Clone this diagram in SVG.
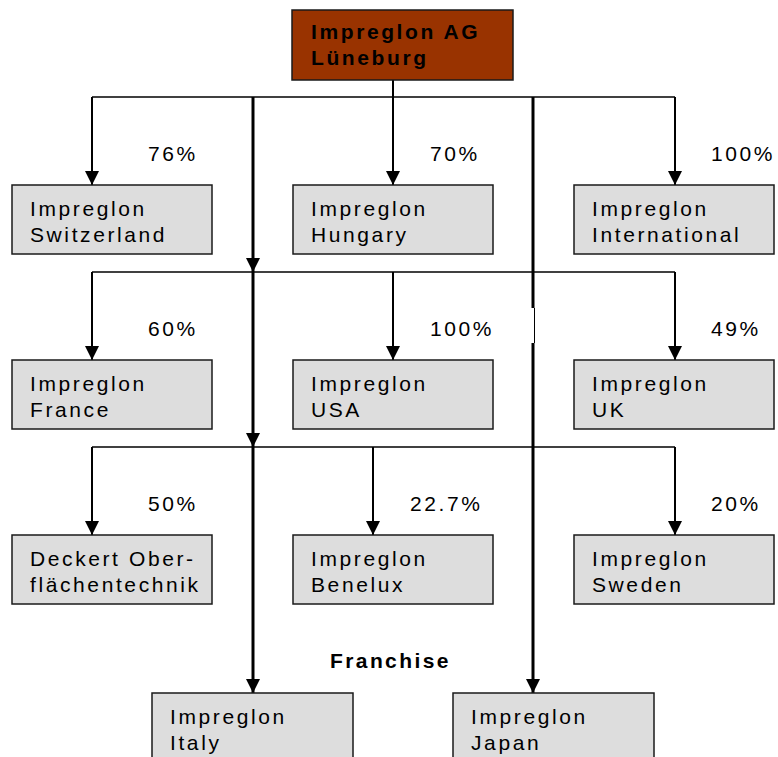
<svg xmlns="http://www.w3.org/2000/svg" width="778" height="757" viewBox="0 0 778 757">
<style>
.box{fill:#dddddd;stroke:#1a1a1a;stroke-width:1.5}
.top{fill:#993300;stroke:#1a1a1a;stroke-width:1.5}
.t{font-family:"Liberation Sans",Arial,sans-serif;font-size:21px;letter-spacing:2.6px;fill:#000}
.b{font-weight:bold}
.ln{stroke:#000;stroke-width:1.6;fill:none}
.ar{stroke:#000;stroke-width:2;fill:none;marker-end:url(#ah)}
.th{stroke:#000;stroke-width:3;fill:none}
.tha{stroke:#000;stroke-width:3;fill:none;marker-end:url(#ah)}
</style>
<defs>
<marker id="ah" markerUnits="userSpaceOnUse" markerWidth="16" markerHeight="14" refX="14" refY="7" orient="auto">
<path d="M0,0 L14,7 L0,14 Z" fill="#000"/>
</marker>
</defs>
<g id="connectors">
<line class="ar" x1="393" y1="80" x2="393" y2="97" style="marker-end:none"/>
<line class="ln" x1="92" y1="97" x2="675" y2="97"/>
<line class="ar" x1="92" y1="97" x2="92" y2="185"/>
<line class="ar" x1="393" y1="97" x2="393" y2="185"/>
<line class="ar" x1="675" y1="97" x2="675" y2="185"/>
<line class="ln" x1="92" y1="272" x2="675" y2="272"/>
<line class="ar" x1="92" y1="272" x2="92" y2="360"/>
<line class="ar" x1="393" y1="272" x2="393" y2="360"/>
<line class="ar" x1="675" y1="272" x2="675" y2="360"/>
<line class="ln" x1="92" y1="447" x2="675" y2="447"/>
<line class="ar" x1="92" y1="447" x2="92" y2="535"/>
<line class="ar" x1="373" y1="447" x2="373" y2="535"/>
<line class="ar" x1="675" y1="447" x2="675" y2="535"/>
<line class="tha" x1="253" y1="97" x2="253" y2="272"/>
<line class="tha" x1="253" y1="272" x2="253" y2="447"/>
<line class="tha" x1="253" y1="447" x2="253" y2="693"/>
<line class="th" x1="533" y1="97" x2="533" y2="308"/>
<line stroke="#000" stroke-width="1" x1="534.5" y1="308" x2="534.5" y2="343"/>
<line class="tha" x1="533" y1="343" x2="533" y2="693"/>
</g>
<g id="n-root">
<rect class="top" x="292" y="10" width="221" height="70"/>
<text class="t b" x="311" y="39">Impreglon AG</text>
<text class="t b" x="311" y="65">Lüneburg</text>
</g>
<g id="n-switzerland">
<rect class="box" x="12" y="185" width="200" height="69"/>
<text class="t" x="30" y="216">Impreglon</text>
<text class="t" x="30" y="242">Switzerland</text>
</g>
<g id="n-hungary">
<rect class="box" x="293" y="185" width="200" height="69"/>
<text class="t" x="311" y="216">Impreglon</text>
<text class="t" x="311" y="242">Hungary</text>
</g>
<g id="n-international">
<rect class="box" x="574" y="185" width="200" height="69"/>
<text class="t" x="592" y="216">Impreglon</text>
<text class="t" x="592" y="242">International</text>
</g>
<g id="n-france">
<rect class="box" x="12" y="360" width="200" height="69"/>
<text class="t" x="30" y="391">Impreglon</text>
<text class="t" x="30" y="417">France</text>
</g>
<g id="n-usa">
<rect class="box" x="293" y="360" width="200" height="69"/>
<text class="t" x="311" y="391">Impreglon</text>
<text class="t" x="311" y="417">USA</text>
</g>
<g id="n-uk">
<rect class="box" x="574" y="360" width="200" height="69"/>
<text class="t" x="592" y="391">Impreglon</text>
<text class="t" x="592" y="417">UK</text>
</g>
<g id="n-deckert">
<rect class="box" x="12" y="535" width="200" height="69"/>
<text class="t" x="30" y="566">Deckert Ober-</text>
<text class="t" x="30" y="592">flächentechnik</text>
</g>
<g id="n-benelux">
<rect class="box" x="293" y="535" width="200" height="69"/>
<text class="t" x="311" y="566">Impreglon</text>
<text class="t" x="311" y="592">Benelux</text>
</g>
<g id="n-sweden">
<rect class="box" x="574" y="535" width="200" height="69"/>
<text class="t" x="592" y="566">Impreglon</text>
<text class="t" x="592" y="592">Sweden</text>
</g>
<g id="n-italy">
<rect class="box" x="152" y="693" width="201" height="80"/>
<text class="t" x="170" y="724">Impreglon</text>
<text class="t" x="170" y="750">Italy</text>
</g>
<g id="n-japan">
<rect class="box" x="453" y="693" width="201" height="80"/>
<text class="t" x="471" y="724">Impreglon</text>
<text class="t" x="471" y="750">Japan</text>
</g>
<g id="labels">
<text class="t" x="148" y="161">76%</text>
<text class="t" x="430" y="161">70%</text>
<text class="t" x="711" y="161">100%</text>
<text class="t" x="148" y="336">60%</text>
<text class="t" x="430" y="336">100%</text>
<text class="t" x="711" y="336">49%</text>
<text class="t" x="148" y="511">50%</text>
<text class="t" x="410" y="511">22.7%</text>
<text class="t" x="711" y="511">20%</text>
<text class="t b" x="330" y="668" style="letter-spacing:2.4px">Franchise</text>
</g>
</svg>
